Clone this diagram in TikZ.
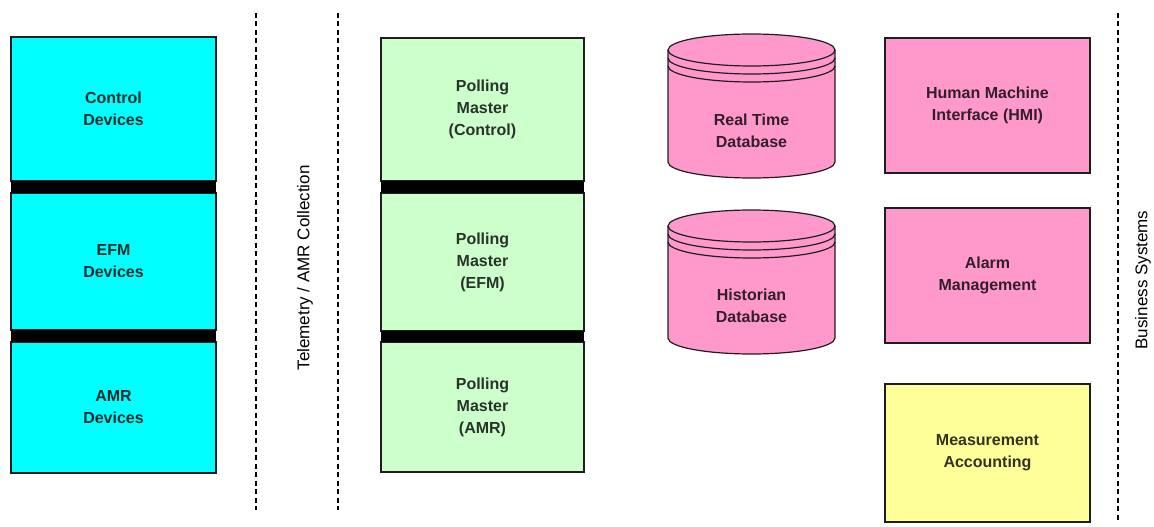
\documentclass[tikz,border=0pt]{standalone}
\usepackage{fontspec}
\setmainfont{Liberation Sans}
\definecolor{c00ffff}{RGB}{0,255,255}
\definecolor{cccffcc}{RGB}{204,255,204}
\definecolor{cff99cc}{RGB}{255,153,204}
\definecolor{cffff99}{RGB}{255,255,153}
\definecolor{c1e1e1e}{RGB}{30,30,30}

\begin{document}
\begin{tikzpicture}[y=1pt, x=1pt, yscale=-1, inner sep=0pt, outer sep=0pt,
  unitbox/.style={draw=c1e1e1e, line width=1.2pt, align=center,
    font=\fontsize{16}{22}\selectfont\bfseries},
  devbox/.style={unitbox, fill=c00ffff, text=c00ffff!18!black, minimum width=205},
  pollbox/.style={unitbox, fill=cccffcc, text=cccffcc!20!black, minimum width=203},
  bizbox/.style={unitbox, fill=cff99cc, text=cff99cc!20!black, minimum width=205},
  sepbar/.style={fill=black},
  divider/.style={draw=black, line width=1.3pt, dash pattern=on 5pt off 3.5pt},
  sidelabel/.style={rotate=90, font=\fontsize{17}{20}\selectfont},
  dbdrum/.style={fill=cff99cc, draw=c1e1e1e, line width=1.2pt}]
\useasboundingbox (0,0) rectangle (1154,527);

  % field devices
  \node[devbox, minimum height=144] (rectCtrlDev) at (113.5,109) {Control\\Devices};
  \node[devbox, minimum height=137] (rectEfmDev) at (113.5,261.5) {EFM\\Devices};
  \node[devbox, minimum height=131] (rectAmrDev) at (113.5,407.5) {AMR\\Devices};
  \path[sepbar] (rectCtrlDev.south west) rectangle (rectEfmDev.north east);
  \path[sepbar] (rectEfmDev.south west) rectangle (rectAmrDev.north east);

  % telemetry band
  \path[divider] (256,13) -- (256,510);
  \path[divider] (338,13) -- (338,510);
  \node[sidelabel] (textTelemetry) at (305,268) {Telemetry / AMR Collection};

  % polling masters
  \node[pollbox, minimum height=143] (rectPollCtrl) at (482.5,109.5) {Polling\\Master\\(Control)};
  \node[pollbox, minimum height=138] (rectPollEfm) at (482.5,262) {Polling\\Master\\(EFM)};
  \node[pollbox, minimum height=130] (rectPollAmr) at (482.5,407) {Polling\\Master\\(AMR)};
  \path[sepbar] (rectPollCtrl.south west) rectangle (rectPollEfm.north east);
  \path[sepbar] (rectPollEfm.south west) rectangle (rectPollAmr.north east);

  % databases
  \path[dbdrum] (668,50) -- (668,162) arc[start angle=180, end angle=0,
    x radius=83.5, y radius=16] -- (835,50) arc[start angle=0, end angle=-180,
    x radius=83.5, y radius=16] -- cycle;
  \path[draw=c1e1e1e, line width=1.2pt] (668,50) arc[start angle=180, end angle=0,
    x radius=83.5, y radius=16] (668,58) arc[start angle=180, end angle=0,
    x radius=83.5, y radius=16] (668,66) arc[start angle=180, end angle=0,
    x radius=83.5, y radius=16];
  \node[align=center, font=\fontsize{16}{22}\selectfont\bfseries,
    text=cff99cc!20!black] (textRealTime) at (751.5,131) {Real Time\\Database};
  \path[dbdrum] (668,226) -- (668,338) arc[start angle=180, end angle=0,
    x radius=83.5, y radius=16] -- (835,226) arc[start angle=0, end angle=-180,
    x radius=83.5, y radius=16] -- cycle;
  \path[draw=c1e1e1e, line width=1.2pt] (668,226) arc[start angle=180, end angle=0,
    x radius=83.5, y radius=16] (668,234) arc[start angle=180, end angle=0,
    x radius=83.5, y radius=16] (668,242) arc[start angle=180, end angle=0,
    x radius=83.5, y radius=16];
  \node[align=center, font=\fontsize{16}{22}\selectfont\bfseries,
    text=cff99cc!20!black] (textHistorian) at (751.5,306) {Historian\\Database};

  % business side
  \node[bizbox, minimum height=135] (rectHmi) at (987.5,105.5) {Human Machine\\Interface (HMI)};
  \node[bizbox, minimum height=135] (rectAlarm) at (987.5,275.5) {Alarm\\Management};
  \node[unitbox, fill=cffff99, text=cffff99!20!black, minimum width=205,
    minimum height=138] (rectMeasure) at (987.5,453) {Measurement\\Accounting};
  \path[divider] (1118,13) -- (1118,522);
  \node[sidelabel] (textBusiness) at (1143,280) {Business Systems};
\end{tikzpicture}
\end{document}
